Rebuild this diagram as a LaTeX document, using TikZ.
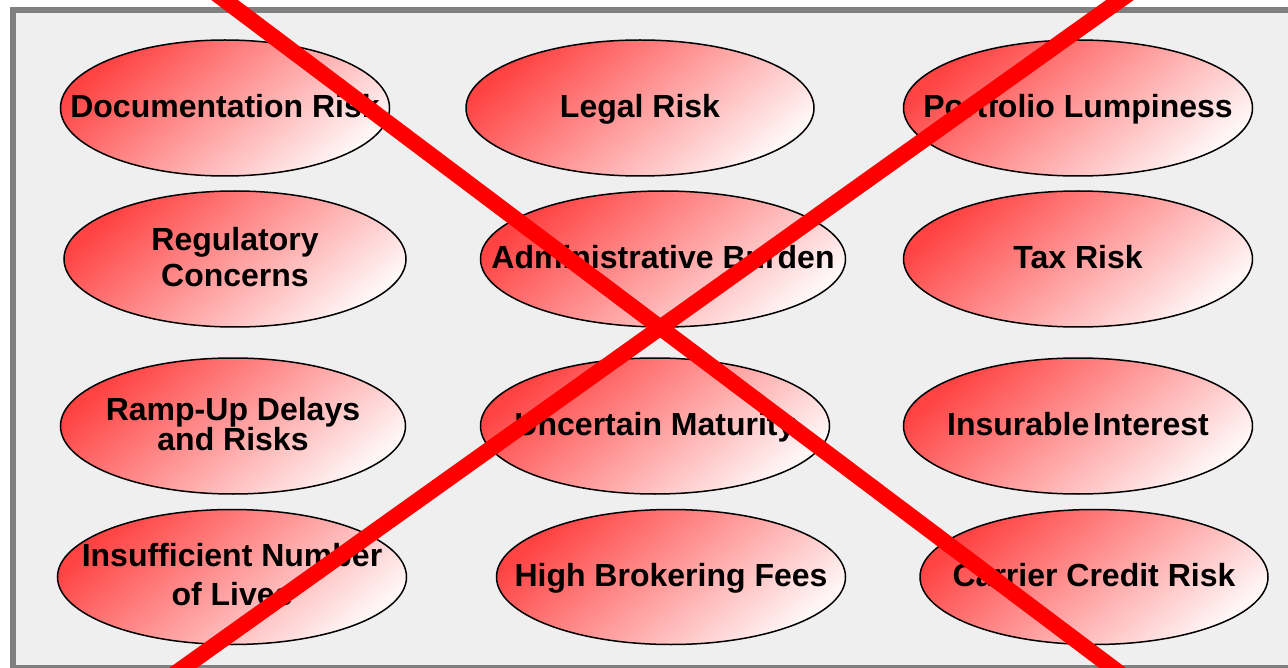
\documentclass[tikz,border=0pt]{standalone}
\usepackage{fontspec}
\setmainfont{Liberation Sans}
\usetikzlibrary{shapes}

\definecolor{riskred}{RGB}{255,66,66}
\definecolor{riskpale}{RGB}{255,246,246}
\definecolor{panelgray}{RGB}{239,239,239}
\definecolor{framegray}{RGB}{128,128,128}

\begin{document}
\begin{tikzpicture}[x=1pt, y=-1pt]
            \tikzset{risk/.style={ellipse, draw=black, line width=1.5pt,
                        top color=riskred, bottom color=riskpale, shading angle=40,
                        minimum width=349pt, minimum height=136pt, inner sep=0pt},
                    every label/.style={shape=rectangle, align=center, yshift=2pt,
                        text height=23pt, text depth=0pt,
                        font=\fontsize{32}{36}\selectfont\bfseries},
                    two/.style={text height=, text depth=},
                    cross/.style={draw=red, line width=16pt}}
            \useasboundingbox (0,0) rectangle (1288,668);
            \clip (0,0) rectangle (1288,668);
            % panel
            \draw[framegray, line width=6pt, fill=panelgray] (13,10) rectangle (1300,668);
            % row 1
            \node[risk, minimum width=329pt] (1) at (225,108) [label=center:{Documentation Risk}] {};
            \node[risk, minimum width=348pt] (2) at (640,108) [label=center:{Legal Risk}] {};
            \node[risk] (3) at (1078,108) [label=center:{Portfolio Lumpiness}] {};
            % row 2
            \node[risk, minimum width=342pt] (4) at (235,259) [label={[two]center:{Regulatory\\Concerns}}] {};
            \node[risk, minimum width=365pt] (5) at (663,259) [label=center:{Administrative Burden}] {};
            \node[risk] (6) at (1078,259) [label=center:{Tax Risk}] {};
            % row 3
            \node[risk, minimum width=345pt] (7) at (233,426) [label={[two]center:{Ramp-Up Delays\\[-6pt]and Risks}}] {};
            \node[risk] (8) at (655,426) [label=center:{Uncertain Maturity}] {};
            \node[risk] (9) at (1078,426) [label=center:{Insurable\hspace{0.12em}Interest}] {};
            % row 4
            \node[risk, minimum height=135pt] (10) at (232,577) [label={[two]center:{Insufficient Number\\[3pt]of Lives}}] {};
            \node[risk, minimum height=135pt] (11) at (671,577) [label=center:{High Brokering Fees}] {};
            \node[risk, minimum width=348pt, minimum height=135pt] (12) at (1094,577) [label=center:{Carrier Credit Risk}] {};
            % crossed out
            \coordinate (c1) at (198,-20);
            \coordinate (c2) at (1142,690);
            \coordinate (c3) at (1148,-20);
            \coordinate (c4) at (152,690);
            \path[cross] (c1) -- (c2);
            \path[cross] (c3) -- (c4);
        \end{tikzpicture}
\end{document}
